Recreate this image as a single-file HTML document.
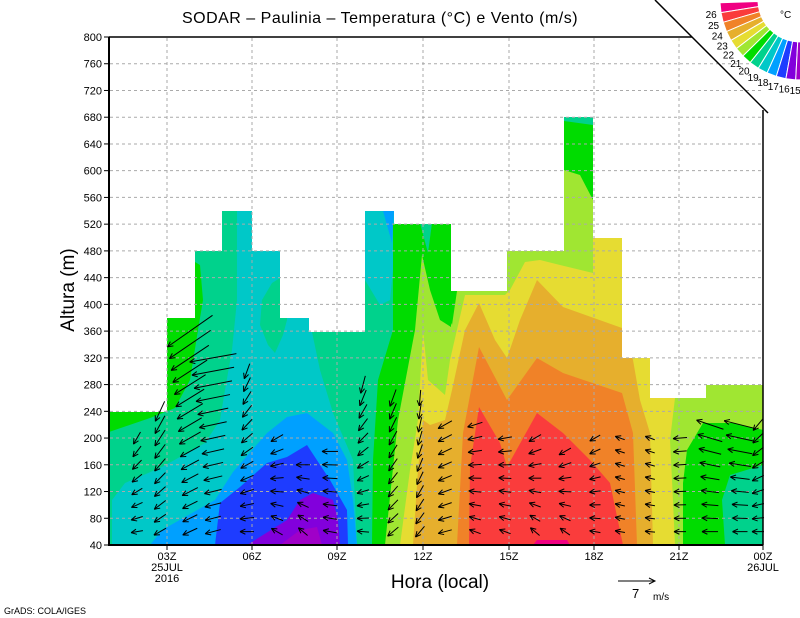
<!DOCTYPE html>
<html><head><meta charset="utf-8"><style>
html,body{margin:0;padding:0;background:#fff;}
svg{display:block;font-family:"Liberation Sans",sans-serif;}
</style></head><body>
<svg id="s" width="800" height="618" viewBox="0 0 800 618" xmlns="http://www.w3.org/2000/svg">
<defs>
<clipPath id="dm"><polygon points="109,545 109,412 167,412 167,318 195,318 195,251 222,251 222,211 252,211 252,251 280,251 280,318 309,318 309,332 365,332 365,211 394,211 394,224 451,224 451,291 507,291 507,251 564,251 564,117 593,117 593,238 622,238 622,358 650,358 650,398 706,398 706,385 763,385 763,545"/></clipPath>
</defs>
<g clip-path="url(#dm)">
<rect x="109" y="100" width="654" height="445" fill="#00d28c"/>
<polygon fill="#a0e632" points="109,412 118,412 109,425"/>
<polygon fill="#00dc00" points="109,412 167,412 167,318 195,318 195,262 200,265 203,300 198,330 190,380 175,408 150,418 109,432"/>
<polygon fill="#00c8c8" points="112,545 112,500 125,483 162,467 205,443 220,420 225,390 232,350 237,300 237,211 252,211 252,251 280,251 280,278 272,283 262,300 260,325 268,345 275,353 283,335 287,320 287,318 309,318 309,332 312,332 320,370 333,413 353,460 357,545"/>
<polygon fill="#00c8c8" points="365,211 394,211 396,240 390,300 380,305 365,280"/>
<polygon fill="#00a0ff" points="383,211 394,211 392,243"/>
<polygon fill="#00a0ff" points="150,545 162,530 185,517 215,500 233,472 267,433 287,417 307,413 333,433 347,460 353,500 357,545"/>
<polygon fill="#1e3cff" points="215,545 220,503 240,487 267,463 287,457 307,445 330,480 347,510 348,545"/>
<polygon fill="#8200dc" points="247,545 287,520 300,500 313,493 333,500 338,520 340,545"/>
<polygon fill="#a000c8" points="280,545 300,530 317,527 322,545"/>
<polygon fill="#00dc00" points="372,545 373,460 378,380 393,330 393,224 451,224 451,291 457,291 457,330 390,545"/>
<polygon fill="#00d28c" points="420,223 432,223 428,253"/>
<polygon fill="#00dc00" points="564,117 593,117 593,205 575,175 564,170"/>
<polygon fill="#00d28c" points="564,117 593,117 593,125 564,121"/>
<polygon fill="#a0e632" points="385,545 398,420 415,330 422,255 430,290 440,320 451,327 451,291 507,291 507,251 564,251 564,170 580,175 593,200 593,238 622,238 622,358 650,358 650,398 706,398 706,385 763,385 763,430 740,425 710,425 700,440 690,470 683,500 685,545"/>
<polygon fill="#00dc00" points="451,291 457,291 452,325 447,315"/>
<polygon fill="#e6dc32" points="400,545 410,470 418,420 423,330 428,380 445,395 450,360 465,295 505,295 510,290 525,262 540,260 560,265 593,273 593,238 622,238 622,358 650,358 650,398 675,398 670,440 672,480 675,545"/>
<polygon fill="#e6af2d" points="413,545 418,470 423,420 430,425 445,420 452,390 465,330 479,303 495,340 507,358 520,320 537,280 563,307 622,328 633,360 640,400 650,433 653,545"/>
<polygon fill="#f08228" points="457,545 463,433 479,347 507,400 537,358 563,373 622,393 633,433 637,545"/>
<polygon fill="#fa3c3c" points="469,545 470,467 479,407 500,443 507,467 537,413 563,433 590,460 610,483 623,545"/>
<polygon fill="#f00082" points="533,545 537,540 567,540 570,545"/>
<polygon fill="#00dc00" points="683,545 683,483 687,450 703,423 733,423 763,430 763,545"/>
<polygon fill="#00d28c" points="725,545 722,500 730,475 763,465 763,545"/>
</g>
<g id="grid" stroke="#aaa" stroke-width="1" stroke-dasharray="3,3" fill="none"></g>
<g id="arr" stroke="#000" stroke-width="1" fill="none"></g>
<line x1="109" y1="37" x2="109" y2="546" stroke="#000" stroke-width="2"/>
<line x1="108" y1="545" x2="763" y2="545" stroke="#000" stroke-width="2"/>
<line x1="109" y1="37" x2="692" y2="37" stroke="#000" stroke-width="1.5"/>
<line x1="763" y1="110" x2="763" y2="545" stroke="#000" stroke-width="1.5"/>
<line x1="655" y1="0" x2="768" y2="113" stroke="#000" stroke-width="1.5"/>
<g id="ticks" stroke="#000" stroke-width="1"></g>
<g id="ylab" font-size="11" text-anchor="end" fill="#000"></g>
<g font-size="11" text-anchor="middle" fill="#000">
<text x="167" y="560">03Z</text><text x="167" y="571">25JUL</text><text x="167" y="582">2016</text>
<text x="252" y="560">06Z</text><text x="337" y="560">09Z</text><text x="423" y="560">12Z</text>
<text x="509" y="560">15Z</text><text x="594" y="560">18Z</text><text x="679" y="560">21Z</text>
<text x="763" y="560">00Z</text><text x="763" y="571">26JUL</text>
</g>
<text x="440" y="588" font-size="19" text-anchor="middle">Hora (local)</text>
<text transform="translate(74,290) rotate(-90)" font-size="19" text-anchor="middle">Altura (m)</text>
<text x="380" y="23" font-size="16" text-anchor="middle" letter-spacing="0.5">SODAR – Paulinia – Temperatura (°C) e Vento (m/s)</text>
<line x1="618" y1="581" x2="655" y2="581" stroke="#000"/>
<polyline points="649,578 655,581 649,584" stroke="#000" fill="none"/>
<text x="632" y="598" font-size="13">7</text><text x="653" y="600" font-size="10">m/s</text>
<text x="4" y="614" font-size="9">GrADS: COLA/IGES</text>
<g id="leg"></g>
<text x="780" y="18" font-size="10">°C</text>
</svg>
<script>
var NS="http://www.w3.org/2000/svg";
function el(p,t,a){var e=document.createElementNS(NS,t);for(var k in a)e.setAttribute(k,a[k]);p.appendChild(e);return e;}
function Y(h){return 545-(h-40)*508/760;}
var g=document.getElementById('grid'),tk=document.getElementById('ticks'),yl=document.getElementById('ylab');
for(var h=40;h<=800;h+=40){var y=Y(h);if(h>40&&h<800)el(g,'line',{x1:110,y1:y,x2:762,y2:y});
el(tk,'line',{x1:104,y1:y,x2:109,y2:y});var t=el(yl,'text',{x:102,y:y+4});t.textContent=h;}
[167,252,337,423,509,594,679].forEach(function(x){el(g,'line',{x1:x,y1:38,x2:x,y2:544});});
[167,252,337,423,509,594,679,763].forEach(function(x){el(tk,'line',{x1:x,y1:545,x2:x,y2:550});});
var cols=[[137,200,120,170,14,12],[160,240,115,150,22,14],[190,360,145,155,55,16],[213,330,170,165,50,16],[247,300,110,180,16,14],[277,200,150,210,14,13],[303,160,180,220,14,12],[330,180,180,190,16,14],[363,280,105,185,18,12],[393,260,110,140,18,14],[420,260,95,130,16,14],[445,230,150,165,16,14],[475,230,160,200,16,12],[505,200,170,200,14,12],[535,200,150,220,14,12],[565,190,145,215,14,12],[595,200,150,190,12,11],[620,210,200,190,10,10],[650,200,200,185,10,10],[680,200,175,180,14,12],[710,230,200,180,30,16],[740,230,195,180,35,15],[758,220,130,180,15,12]];
var ar=document.getElementById('arr');
cols.forEach(function(c){for(var h=60;h<=c[1];h+=20){var f=(h-60)/Math.max(20,c[1]-60);
var a=(c[3]+(c[2]-c[3])*f)*Math.PI/180,L=c[5]+(c[4]-c[5])*f*f;
var dx=Math.cos(a)*L,dy=Math.sin(a)*L,y=Y(h),x0=c[0]-dx/2,y0=y-dy/2,x1=c[0]+dx/2,y1=y+dy/2;
el(ar,'line',{x1:x0,y1:y0,x2:x1,y2:y1});
for(var s=-1;s<=1;s+=2){var b=a+Math.PI+s*0.45;el(ar,'line',{x1:x1,y1:y1,x2:x1+Math.cos(b)*6,y2:y1+Math.sin(b)*6});}}});
var cs=["#f00082","#fa3c3c","#f08228","#e6af2d","#e6dc32","#a0e632","#00dc00","#00d28c","#00c8c8","#00a0ff","#1e3cff","#8200dc","#a000c8"];
var lg=document.getElementById('leg'),cx=800,cy=0,r1=42,r2=80,n=13,st=92/n,a0=178;
function p(r,t){return (cx+r*Math.cos(t)).toFixed(1)+','+(cy+r*Math.sin(t)).toFixed(1);}
for(var i=0;i<n;i++){var A=(a0-i*st)*Math.PI/180,B=(a0-(i+1)*st)*Math.PI/180;
el(lg,'polygon',{points:[p(r1,A),p(r2,A),p(r2,B),p(r1,B)].join(' '),fill:cs[i],stroke:'#fff','stroke-width':1});
if(i>0){var tx=cx+90*Math.cos(A),ty=cy+90*Math.sin(A)+4;
var t=el(lg,'text',{x:tx,y:ty,'font-size':10,'text-anchor':'middle'});t.textContent=(27-i);}}
</script>
</body></html>
